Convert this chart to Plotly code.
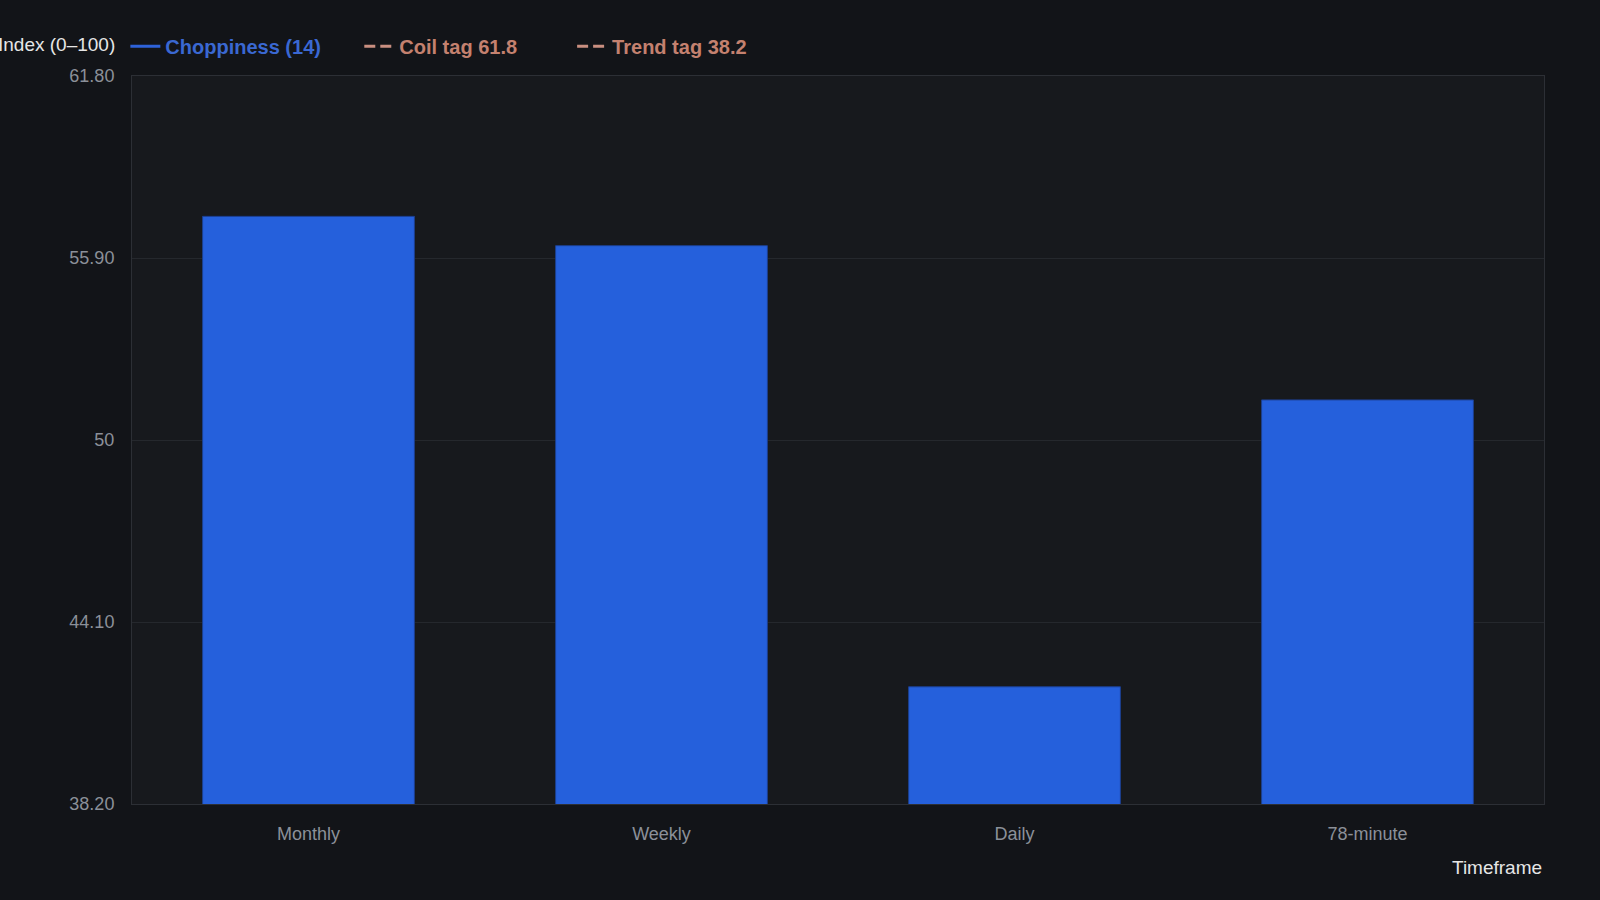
import plotly.graph_objects as go

timeframes = ['Monthly', 'Weekly', 'Daily', '78-minute']
chop_values = [57.25, 56.3, 42.0, 51.3]

coil_tag = 61.8
trend_tag = 38.2
tick_vals = [38.2, 44.1, 50, 55.9, 61.8]
tick_text = ['38.20', '44.10', '50', '55.90', '61.80']

blue = '#2560dc'
tag_color = '#c4816f'
grid = '#25282d'


def legend_label(text, color, pad):
    return f'<span style="color:{color}">{text}</span>' + '&nbsp;' * pad


fig = go.Figure()
fig.add_trace(go.Bar(
    x=timeframes, y=chop_values, name='Choppiness (14)', showlegend=False,
    marker=dict(color=blue, line=dict(color='#1c3f8f', width=1)),
    width=0.6,
))
# legend entries (the tag lines sit on the axis edges, so nothing is drawn)
fig.add_trace(go.Scatter(
    x=[None], y=[None], mode='lines', name=legend_label('Choppiness (14)', '#3a68d2', 6),
    line=dict(color='#2e62d8', width=3),
))
fig.add_trace(go.Scatter(
    x=[None], y=[None], mode='lines', name=legend_label(f'Coil tag {coil_tag}', tag_color, 9),
    line=dict(color='#c98f80', width=3, dash='11px,5px'),
))
fig.add_trace(go.Scatter(
    x=[None], y=[None], mode='lines', name=legend_label(f'Trend tag {trend_tag}', tag_color, 0),
    line=dict(color='#c98f80', width=3, dash='11px,5px'),
))

fig.update_layout(
    width=1600, height=900,
    paper_bgcolor='#121418', plot_bgcolor='#17191d',
    font=dict(family='Liberation Sans, Arial, sans-serif', color='#8b9099', size=18),
    margin=dict(l=132, r=56, t=76, b=96),
    showlegend=True,
    legend=dict(
        orientation='h', x=-0.0047, xanchor='left', y=1.041, yanchor='middle',
        font=dict(size=20, weight='bold'), bgcolor='rgba(0,0,0,0)',
    ),
    bargap=0.4,
)
fig.update_xaxes(
    showgrid=False, showline=True, linecolor='#2c2f35', mirror=True,
    ticks='', ticklabelstandoff=13,
)
fig.update_yaxes(
    range=[trend_tag, coil_tag], tickvals=tick_vals, ticktext=tick_text,
    gridcolor=grid, showline=True, linecolor='#2c2f35', mirror=True,
    zeroline=False, ticks='', ticklabelstandoff=13,
)
fig.add_annotation(
    text='Index (0–100)', xref='paper', yref='paper', x=-0.0105, y=1.0,
    xanchor='right', yanchor='middle', showarrow=False, yshift=32,
    font=dict(color='#e6e6e6', size=19),
)
fig.add_annotation(
    text='Timeframe', xref='paper', yref='paper', x=1.0, y=0.0,
    xanchor='right', yanchor='middle', showarrow=False, yshift=-63,
    font=dict(color='#e6e6e6', size=19),
)
fig.write_html('out.html', config={'displayModeBar': False},
               post_script="document.body.style.margin='0';")
